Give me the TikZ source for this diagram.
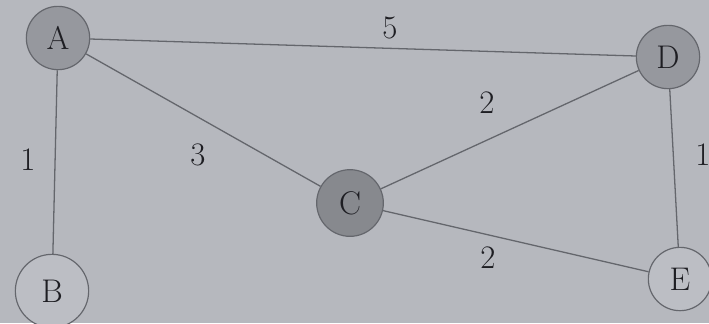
\documentclass[tikz,border=0pt]{standalone}
\usepackage{tikz}
\usetikzlibrary{positioning}
\definecolor{paper}{RGB}{182,184,190}
\definecolor{vdark}{RGB}{150,152,158}
\definecolor{vlight}{RGB}{188,190,196}
\definecolor{ink}{RGB}{30,30,35}
\definecolor{edgegray}{RGB}{100,102,108}

\begin{document}
\begin{tikzpicture}[x=0.03cm, y=-0.03cm, font=\fontsize{28}{32}\selectfont,
    vertex/.style={circle, draw=edgegray, line width=1pt, fill=vdark, text=ink, minimum size=1.9cm, inner sep=0pt},
    leaf/.style={vertex, fill=vlight},
    weight/.style={text=ink, inner sep=0pt},
    link/.style={draw=edgegray, line width=1.1pt}]

  % paper
  \fill[paper] (0,0) rectangle (709,323);
  \useasboundingbox (0,0) rectangle (709,323);

  \node[vertex] (A) at (58,38) {A};
  \node[vertex] (D) at (668,57) {D};
  \node[vertex, fill=vdark!90!black, minimum size=2.0cm] (C) at (350,203) {C};
  \node[leaf, minimum size=2.2cm] (B) at (52,291) {B};
  \node[leaf] (E) at (680,279) {E};

  \draw[link] (A) -- (D);
  \draw[link] (A) -- (B);
  \draw[link] (A) -- (C);
  \draw[link] (C) -- (D);
  \draw[link] (C) -- (E);
  \draw[link] (D) -- (E);

  % weights
  \node[weight] (wAD) at (390,28) {5};
  \node[weight] (wAB) at (28,160) {1};
  \node[weight] (wAC) at (198,155) {3};
  \node[weight] (wCD) at (487,103) {2};
  \node[weight] (wCE) at (488,258) {2};
  \node[weight] (wDE) at (703,155) {1};

\end{tikzpicture}
\end{document}
